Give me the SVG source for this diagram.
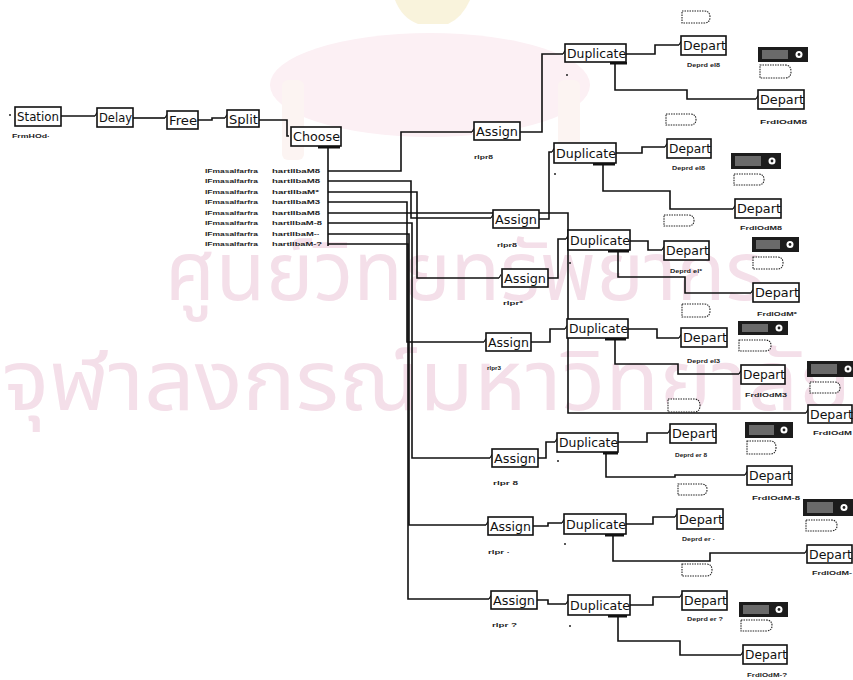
<svg xmlns="http://www.w3.org/2000/svg" width="853" height="680" viewBox="0 0 853 680">
<style>
.wm{font-family:"Noto Sans Thai","Loma","Garuda","Tlwg Typo","Noto Sans","DejaVu Sans",sans-serif;fill:#f4dfe9}
.box{fill:#fff;stroke:#111;stroke-width:1.6}
.bt{font-family:"DejaVu Sans",sans-serif;font-size:12px;fill:#111}
.lb{font-family:"Liberation Sans",Arial,sans-serif;font-size:5.5px;font-weight:bold;fill:#222}
.c{fill:none;stroke:#111;stroke-width:1.6}
.bar{fill:#111}
.dk{fill:#1c1c1c}
.dkg{fill:#6a6a6a}
.tag{fill:#fff;stroke:#222;stroke-width:1.1;stroke-dasharray:1.5 1}
.dot{fill:#222}
</style>
<defs>
<marker id="tk" markerUnits="userSpaceOnUse" orient="auto" markerWidth="6" markerHeight="8" refX="0" refY="5" viewBox="0 0 6 8" overflow="visible">
<path d="M0,5 L2,1.5" fill="none" stroke="#111" stroke-width="1.2"/>
</marker>
</defs>
<rect width="853" height="680" fill="#fff"/>
<!-- watermark -->
<g id="watermark">
<ellipse cx="430" cy="85" rx="160" ry="52" fill="#fcf0f4"/>
<path d="M395,0 H470 Q462,18 448,24 H418 Q402,18 395,0 Z" fill="#f9f3dc"/>
<rect x="282" y="80" width="22" height="80" rx="6" fill="#fcf4f2"/>
<rect x="558" y="80" width="22" height="80" rx="6" fill="#fcf4f2"/>
<text class="wm" x="165" y="300" font-size="82" textLength="600" lengthAdjust="spacingAndGlyphs">ศูนย์วิทยทรัพยากร</text>
<text class="wm" x="2" y="410" font-size="84" textLength="849" lengthAdjust="spacingAndGlyphs">จุฬาลงกรณ์มหาวิทยาลัย</text>
</g>
<!-- connectors -->
<g id="connectors">
<path class="c" d="M61,116 H95" marker-end="url(#tk)"/>
<path class="c" d="M133,118 H165" marker-end="url(#tk)"/>
<path class="c" d="M198,120 H212 V118 H225" marker-end="url(#tk)"/>
<path class="c" d="M259,120 H287 V136 H289"/>
<path class="c" d="M328,147 V246"/>
<path class="c" d="M328,171 H401 V132 H472" marker-end="url(#tk)"/>
<path class="c" d="M328,181 H411 V218 H491" marker-end="url(#tk)"/>
<path class="c" d="M328,192 H417 V278 H499" marker-end="url(#tk)"/>
<path class="c" d="M328,202 H407 V342 H484" marker-end="url(#tk)"/>
<path class="c" d="M328,213 H568 V413 H806" marker-end="url(#tk)"/>
<path class="c" d="M328,223 H412 V458 H490" marker-end="url(#tk)"/>
<path class="c" d="M328,234 H409 V525 H486" marker-end="url(#tk)"/>
<path class="c" d="M328,244 H408 V599 H489" marker-end="url(#tk)"/>
<path class="c" d="M520,132 H542 V54 H563" marker-end="url(#tk)"/>
<path class="c" d="M626,54 H655 V45 H679" marker-end="url(#tk)"/>
<path class="c" d="M615,62 V90 H687 V99 H756" marker-end="url(#tk)"/>
<path class="c" d="M539,219 H549 V152 H552" marker-end="url(#tk)"/>
<path class="c" d="M616,153 H642 V147 H665" marker-end="url(#tk)"/>
<path class="c" d="M603,163 V191 H670 V209 H733" marker-end="url(#tk)"/>
<path class="c" d="M548,278 H558 V239 H566" marker-end="url(#tk)"/>
<path class="c" d="M630,241 H648 V250 H662" marker-end="url(#tk)"/>
<path class="c" d="M618,250 V277 H685 V293 H751" marker-end="url(#tk)"/>
<path class="c" d="M531,342 H550 V329 H565" marker-end="url(#tk)"/>
<path class="c" d="M628,329 H657 V338 H679" marker-end="url(#tk)"/>
<path class="c" d="M615,338 V364 H678 V374 H739" marker-end="url(#tk)"/>
<path class="c" d="M538,458 H546 V442 H555" marker-end="url(#tk)"/>
<path class="c" d="M618,442 H647 V433 H668" marker-end="url(#tk)"/>
<path class="c" d="M606,452 V477 H675 V475 H745" marker-end="url(#tk)"/>
<path class="c" d="M533,526 H548 V523 H562" marker-end="url(#tk)"/>
<path class="c" d="M626,524 H653 V517 H675" marker-end="url(#tk)"/>
<path class="c" d="M613,534 V561 H710 V553 H805" marker-end="url(#tk)"/>
<path class="c" d="M537,600 H548 V604 H566" marker-end="url(#tk)"/>
<path class="c" d="M630,605 H653 V597 H680" marker-end="url(#tk)"/>
<path class="c" d="M618,615 V641 H680 V655 H741" marker-end="url(#tk)"/>
</g>
<!-- main chain -->
<g id="station">
<circle class="dot" cx="10" cy="115" r="1"/>
<rect class="box" x="15" y="107" width="46" height="19"/>
<text class="bt" x="17" y="121" textLength="42" lengthAdjust="spacingAndGlyphs">Station</text>
<text class="lb" x="12" y="138" textLength="38" lengthAdjust="spacingAndGlyphs">FrmHOd·</text>
</g>
<g id="delay">
<rect class="box" x="97" y="108" width="36" height="19"/>
<text class="bt" x="99" y="122" textLength="33" lengthAdjust="spacingAndGlyphs">Delay</text>
</g>
<g id="free">
<rect class="box" x="167" y="111" width="31" height="18"/>
<text class="bt" x="169" y="125" textLength="28" lengthAdjust="spacingAndGlyphs">Free</text>
</g>
<g id="split">
<rect class="box" x="227" y="110" width="32" height="17"/>
<text class="bt" x="229" y="124" textLength="29" lengthAdjust="spacingAndGlyphs">Split</text>
</g>
<g id="choose">
<rect class="box" x="291" y="127" width="50" height="19"/>
<text class="bt" x="293" y="141" textLength="47" lengthAdjust="spacingAndGlyphs">Choose</text>
<rect class="bar" x="318" y="146" width="22" height="2.5"/>
<g class="lb">
<text x="205" y="173" textLength="53" lengthAdjust="spacingAndGlyphs">IFmasalfarfra</text>
<text x="272" y="173" textLength="48" lengthAdjust="spacingAndGlyphs">hartlIbaM8</text>
<text x="205" y="183" textLength="53" lengthAdjust="spacingAndGlyphs">IFmasalfarfra</text>
<text x="272" y="183" textLength="48" lengthAdjust="spacingAndGlyphs">hartlIbaM8</text>
<text x="205" y="194" textLength="53" lengthAdjust="spacingAndGlyphs">IFmasalfarfra</text>
<text x="272" y="194" textLength="47" lengthAdjust="spacingAndGlyphs">hartlIbaM*</text>
<text x="205" y="204" textLength="53" lengthAdjust="spacingAndGlyphs">IFmasalfarfra</text>
<text x="272" y="204" textLength="48" lengthAdjust="spacingAndGlyphs">hartlIbaM3</text>
<text x="205" y="215" textLength="53" lengthAdjust="spacingAndGlyphs">IFmasalfarfra</text>
<text x="272" y="215" textLength="48" lengthAdjust="spacingAndGlyphs">hartlIbaM8</text>
<text x="205" y="225" textLength="53" lengthAdjust="spacingAndGlyphs">IFmasalfarfra</text>
<text x="272" y="225" textLength="50" lengthAdjust="spacingAndGlyphs">hartlIbaM-8</text>
<text x="205" y="236" textLength="53" lengthAdjust="spacingAndGlyphs">IFmasalfarfra</text>
<text x="272" y="236" textLength="48" lengthAdjust="spacingAndGlyphs">hartlIbaM-·</text>
<text x="205" y="246" textLength="53" lengthAdjust="spacingAndGlyphs">IFmasalfarfra</text>
<text x="272" y="246" textLength="50" lengthAdjust="spacingAndGlyphs">hartlIbaM-?</text>
</g>
</g>
<!-- assigns -->
<g id="assign1"><rect class="box" x="474" y="122" width="46" height="18"/><text class="bt" x="476" y="136" textLength="42" lengthAdjust="spacingAndGlyphs">Assign</text><text class="lb" x="474" y="159" textLength="19" lengthAdjust="spacingAndGlyphs">rlpr8</text></g>
<g id="assign2"><rect class="box" x="493" y="210" width="46" height="18"/><text class="bt" x="495" y="224" textLength="42" lengthAdjust="spacingAndGlyphs">Assign</text><text class="lb" x="497" y="247" textLength="20" lengthAdjust="spacingAndGlyphs">rlpr8</text></g>
<g id="assign3"><rect class="box" x="502" y="269" width="46" height="18"/><text class="bt" x="504" y="283" textLength="42" lengthAdjust="spacingAndGlyphs">Assign</text><text class="lb" x="503" y="305" textLength="20" lengthAdjust="spacingAndGlyphs">rlpr*</text></g>
<g id="assign4"><rect class="box" x="486" y="333" width="45" height="18"/><text class="bt" x="488" y="347" textLength="41" lengthAdjust="spacingAndGlyphs">Assign</text><text class="lb" x="487" y="370" textLength="14" lengthAdjust="spacingAndGlyphs">rlpr3</text></g>
<g id="assign5"><rect class="box" x="492" y="449" width="46" height="18"/><text class="bt" x="494" y="463" textLength="42" lengthAdjust="spacingAndGlyphs">Assign</text><text class="lb" x="493" y="485" textLength="25" lengthAdjust="spacingAndGlyphs">rlpr 8</text></g>
<g id="assign6"><rect class="box" x="488" y="517" width="45" height="18"/><text class="bt" x="490" y="531" textLength="41" lengthAdjust="spacingAndGlyphs">Assign</text><text class="lb" x="488" y="554" textLength="22" lengthAdjust="spacingAndGlyphs">rlpr ·</text></g>
<g id="assign7"><rect class="box" x="491" y="591" width="46" height="18"/><text class="bt" x="493" y="605" textLength="42" lengthAdjust="spacingAndGlyphs">Assign</text><text class="lb" x="492" y="627" textLength="25" lengthAdjust="spacingAndGlyphs">rlpr ?</text></g>
<!-- duplicates -->
<g id="duplicate1"><rect class="box" x="565" y="44" width="61" height="18"/><text class="bt" x="567" y="58" textLength="59" lengthAdjust="spacingAndGlyphs">Duplicate</text><rect class="bar" x="610" y="62" width="17" height="2.5"/><circle class="dot" cx="567" cy="75" r="1"/></g>
<g id="duplicate2"><rect class="box" x="554" y="143" width="62" height="20"/><text class="bt" x="556" y="158" textLength="60" lengthAdjust="spacingAndGlyphs">Duplicate</text><rect class="bar" x="593" y="163" width="22" height="2.5"/><circle class="dot" cx="555" cy="174" r="1"/></g>
<g id="duplicate3"><rect class="box" x="568" y="230" width="62" height="20"/><text class="bt" x="570" y="245" textLength="60" lengthAdjust="spacingAndGlyphs">Duplicate</text><rect class="bar" x="608" y="250" width="21" height="2.5"/><circle class="dot" cx="570" cy="263" r="1"/></g>
<g id="duplicate4"><rect class="box" x="567" y="319" width="61" height="19"/><text class="bt" x="569" y="333" textLength="59" lengthAdjust="spacingAndGlyphs">Duplicate</text><rect class="bar" x="605" y="338" width="21" height="2.5"/></g>
<g id="duplicate5"><rect class="box" x="557" y="433" width="61" height="19"/><text class="bt" x="559" y="447" textLength="59" lengthAdjust="spacingAndGlyphs">Duplicate</text><rect class="bar" x="603" y="452" width="15" height="2.5"/><circle class="dot" cx="558" cy="461" r="1"/></g>
<g id="duplicate6"><rect class="box" x="564" y="514" width="62" height="20"/><text class="bt" x="566" y="529" textLength="60" lengthAdjust="spacingAndGlyphs">Duplicate</text><rect class="bar" x="605" y="534" width="19" height="2.5"/><circle class="dot" cx="565" cy="544" r="1"/></g>
<g id="duplicate7"><rect class="box" x="568" y="595" width="62" height="20"/><text class="bt" x="570" y="610" textLength="60" lengthAdjust="spacingAndGlyphs">Duplicate</text><rect class="bar" x="608" y="615" width="19" height="2.5"/><circle class="dot" cx="570" cy="626" r="1"/></g>
<!-- departs -->
<g id="depart1"><rect class="box" x="681" y="36" width="45" height="19"/><text class="bt" x="683" y="50" textLength="43" lengthAdjust="spacingAndGlyphs">Depart</text><text class="lb" x="687" y="67" textLength="33" lengthAdjust="spacingAndGlyphs">Deprd el8</text></g>
<g id="depart2"><rect class="box" x="758" y="90" width="46" height="19"/><text class="bt" x="760" y="104" textLength="44" lengthAdjust="spacingAndGlyphs">Depart</text><text class="lb" x="760" y="124" textLength="47" lengthAdjust="spacingAndGlyphs">FrdlOdM8</text></g>
<g id="depart3"><rect class="box" x="667" y="139" width="44" height="19"/><text class="bt" x="669" y="153" textLength="42" lengthAdjust="spacingAndGlyphs">Depart</text><text class="lb" x="672" y="170" textLength="33" lengthAdjust="spacingAndGlyphs">Deprd el8</text></g>
<g id="depart4"><rect class="box" x="735" y="199" width="46" height="19"/><text class="bt" x="737" y="213" textLength="44" lengthAdjust="spacingAndGlyphs">Depart</text><text class="lb" x="740" y="230" textLength="42" lengthAdjust="spacingAndGlyphs">FrdlOdM8</text></g>
<g id="depart5"><rect class="box" x="664" y="241" width="45" height="19"/><text class="bt" x="666" y="255" textLength="43" lengthAdjust="spacingAndGlyphs">Depart</text><text class="lb" x="670" y="273" textLength="32" lengthAdjust="spacingAndGlyphs">Deprd el*</text></g>
<g id="depart6"><rect class="box" x="753" y="283" width="46" height="19"/><text class="bt" x="755" y="297" textLength="44" lengthAdjust="spacingAndGlyphs">Depart</text><text class="lb" x="757" y="316" textLength="40" lengthAdjust="spacingAndGlyphs">FrdlOdM*</text></g>
<g id="depart7"><rect class="box" x="681" y="328" width="46" height="19"/><text class="bt" x="683" y="342" textLength="44" lengthAdjust="spacingAndGlyphs">Depart</text><text class="lb" x="687" y="363" textLength="33" lengthAdjust="spacingAndGlyphs">Deprd el3</text></g>
<g id="depart8"><rect class="box" x="741" y="365" width="44" height="19"/><text class="bt" x="743" y="379" textLength="42" lengthAdjust="spacingAndGlyphs">Depart</text><text class="lb" x="745" y="397" textLength="42" lengthAdjust="spacingAndGlyphs">FrdlOdM3</text></g>
<g id="depart9"><rect class="box" x="808" y="405" width="44" height="18"/><text class="bt" x="810" y="419" textLength="43" lengthAdjust="spacingAndGlyphs">Depart</text><text class="lb" x="813" y="435" textLength="39" lengthAdjust="spacingAndGlyphs">FrdlOdM</text></g>
<g id="depart10"><rect class="box" x="670" y="424" width="46" height="19"/><text class="bt" x="672" y="438" textLength="44" lengthAdjust="spacingAndGlyphs">Depart</text><text class="lb" x="675" y="457" textLength="32" lengthAdjust="spacingAndGlyphs">Deprd er 8</text></g>
<g id="depart11"><rect class="box" x="747" y="466" width="45" height="19"/><text class="bt" x="749" y="480" textLength="43" lengthAdjust="spacingAndGlyphs">Depart</text><text class="lb" x="752" y="500" textLength="48" lengthAdjust="spacingAndGlyphs">FrdlOdM-8</text></g>
<g id="depart12"><rect class="box" x="677" y="509" width="46" height="20"/><text class="bt" x="679" y="524" textLength="44" lengthAdjust="spacingAndGlyphs">Depart</text><text class="lb" x="682" y="541" textLength="33" lengthAdjust="spacingAndGlyphs">Deprd er ·</text></g>
<g id="depart13"><rect class="box" x="807" y="545" width="45" height="18"/><text class="bt" x="809" y="559" textLength="43" lengthAdjust="spacingAndGlyphs">Depart</text><text class="lb" x="812" y="575" textLength="40" lengthAdjust="spacingAndGlyphs">FrdlOdM-</text></g>
<g id="depart14"><rect class="box" x="682" y="591" width="45" height="19"/><text class="bt" x="684" y="605" textLength="43" lengthAdjust="spacingAndGlyphs">Depart</text><text class="lb" x="687" y="621" textLength="36" lengthAdjust="spacingAndGlyphs">Deprd er ?</text></g>
<g id="depart15"><rect class="box" x="743" y="645" width="44" height="19"/><text class="bt" x="745" y="659" textLength="42" lengthAdjust="spacingAndGlyphs">Depart</text><text class="lb" x="747" y="677" textLength="40" lengthAdjust="spacingAndGlyphs">FrdlOdM-?</text></g>
<!-- resource pictures -->
<g id="resources">
<g transform="translate(758,47)"><rect class="dk" width="50" height="15"/><rect class="dkg" x="4" y="3" width="26" height="9"/><circle cx="41" cy="7.5" r="3.5" fill="#fff"/><circle cx="41" cy="7.5" r="1.4" fill="#222"/></g>
<g transform="translate(731,153)"><rect class="dk" width="50" height="16"/><rect class="dkg" x="4" y="3" width="26" height="10"/><circle cx="41" cy="8" r="3.5" fill="#fff"/><circle cx="41" cy="8" r="1.4" fill="#222"/></g>
<g transform="translate(752,237)"><rect class="dk" width="47" height="15"/><rect class="dkg" x="4" y="3" width="24" height="9"/><circle cx="38" cy="7.5" r="3.5" fill="#fff"/><circle cx="38" cy="7.5" r="1.4" fill="#222"/></g>
<g transform="translate(738,321)"><rect class="dk" width="50" height="14"/><rect class="dkg" x="4" y="3" width="26" height="8"/><circle cx="41" cy="7" r="3.5" fill="#fff"/><circle cx="41" cy="7" r="1.4" fill="#222"/></g>
<g transform="translate(807,361)"><rect class="dk" width="46" height="16"/><rect class="dkg" x="4" y="3" width="26" height="10"/><circle cx="41" cy="8" r="3.5" fill="#fff"/><circle cx="41" cy="8" r="1.4" fill="#222"/></g>
<g transform="translate(745,422)"><rect class="dk" width="48" height="16"/><rect class="dkg" x="4" y="3" width="25" height="10"/><circle cx="39" cy="8" r="3.5" fill="#fff"/><circle cx="39" cy="8" r="1.4" fill="#222"/></g>
<g transform="translate(803,499)"><rect class="dk" width="50" height="17"/><rect class="dkg" x="4" y="3" width="26" height="11"/><circle cx="41" cy="8.5" r="3.5" fill="#fff"/><circle cx="41" cy="8.5" r="1.4" fill="#222"/></g>
<g transform="translate(739,602)"><rect class="dk" width="49" height="15"/><rect class="dkg" x="4" y="3" width="26" height="9"/><circle cx="40" cy="7.5" r="3.5" fill="#fff"/><circle cx="40" cy="7.5" r="1.4" fill="#222"/></g>
</g>
<!-- queue tags -->
<g id="queues">
<path class="tag" d="M682,11 H704 Q710,11 710,17 Q710,23 704,23 H682 Z"/>
<path class="tag" d="M760,65 H785 Q791,65 791,71.5 Q791,78 785,78 H760 Z"/>
<path class="tag" d="M666,114 H690 Q696,114 696,119.5 Q696,125 690,125 H666 Z"/>
<path class="tag" d="M734,174 H758 Q764,174 764,179.5 Q764,185 758,185 H734 Z"/>
<path class="tag" d="M664,215 H688 Q694,215 694,220.5 Q694,226 688,226 H664 Z"/>
<path class="tag" d="M753,257 H777 Q783,257 783,263 Q783,269 777,269 H753 Z"/>
<path class="tag" d="M682,304 H704 Q710,304 710,310.5 Q710,317 704,317 H682 Z"/>
<path class="tag" d="M739,340 H765 Q771,340 771,345.5 Q771,351 765,351 H739 Z"/>
<path class="tag" d="M810,382 H834 Q840,382 840,387.5 Q840,393 834,393 H810 Z"/>
<path class="tag" d="M668,399 H694 Q700,399 700,405.5 Q700,412 694,412 H668 Z"/>
<path class="tag" d="M747,441 H770 Q776,441 776,447.5 Q776,454 770,454 H747 Z"/>
<path class="tag" d="M678,484 H701 Q707,484 707,489.5 Q707,495 701,495 H678 Z"/>
<path class="tag" d="M806,520 H831 Q837,520 837,525.5 Q837,531 831,531 H806 Z"/>
<path class="tag" d="M682,564 H706 Q712,564 712,570 Q712,576 706,576 H682 Z"/>
<path class="tag" d="M741,620 H766 Q772,620 772,625.5 Q772,631 766,631 H741 Z"/>
</g>
</svg>
